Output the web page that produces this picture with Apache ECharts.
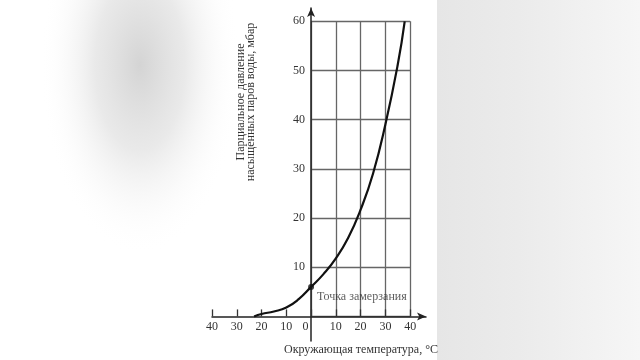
<!DOCTYPE html>
<html>
<head>
<meta charset="utf-8">
<script src="https://cdn.jsdelivr.net/npm/echarts@6/dist/echarts.min.js"></script>
<style>html,body{margin:0;padding:0;background:#fff}#c{width:640px;height:360px}</style>
</head>
<body>
<div id="c"></div>
<script>
// ---- data ----
const temperature = [-23, -20, -15, -10, -5, 0, 5, 10, 15, 20, 25, 30, 35, 37.8];
const pressure    = [0, 0.5, 1.0, 1.8, 3.5, 6.0, 8.6, 11.8, 16.0, 21.7, 29.0, 39.0, 51.2, 60];
const xTickLabels = [-40, -30, -20, -10, 0, 10, 20, 30, 40];
const yTickLabels = [10, 20, 30, 40, 50, 60];
const freezePoint = [0, 6.0];
const freezeLabel = 'Точка замерзания';
const xName = 'Окружающая температура, °C';
const yName = ['Парциальное давление', 'насыщенных паров воды, мбар'];

const FONT = 'Liberation Serif';
const TXT = '#333';

const chart = echarts.init(document.getElementById('c'), null, {renderer: 'canvas'});

const series = [{
  type: 'line',
  xAxisIndex: 0, yAxisIndex: 0,
  data: temperature.map((t, i) => [t, pressure[i]]),
  smooth: 0.5,
  showSymbol: false,
  lineStyle: {color: '#111', width: 2.2},
  z: 5
}, {
  type: 'scatter',
  xAxisIndex: 0, yAxisIndex: 0,
  data: [freezePoint],
  symbolSize: 6,
  itemStyle: {color: '#111'},
  label: {show: true, position: 'right', distance: 3, offset: [0, 10],
          formatter: freezeLabel, fontFamily: FONT, fontSize: 12, color: TXT},
  z: 6
}];

const mainGrid = {left: 212, right: 214, top: 8, bottom: 19};
const mainX = {
  type: 'value', gridIndex: 0, min: -40, max: 46.4,
  axisLine: {show: true, onZero: true, symbol: ['none', 'arrow'], symbolSize: [6, 9],
             lineStyle: {color: '#222', width: 1.5}},
  axisTick: {show: false}, axisLabel: {show: false}, splitLine: {show: false}
};
const mainY = {
  type: 'value', gridIndex: 0, min: -5, max: 62.7,
  axisLine: {show: true, onZero: true, symbol: ['none', 'arrow'], symbolSize: [6, 9],
             lineStyle: {color: '#222', width: 1.5}},
  axisTick: {show: false}, axisLabel: {show: false}, splitLine: {show: false}
};

chart.setOption({
  animation: false,
  backgroundColor: '#fff',
  graphic: [
    {type: 'circle', shape: {cx: 0, cy: 0, r: 100}, x: 140, y: 65, scaleY: 1.9, silent: true, z: -11,
     style: {fill: new echarts.graphic.RadialGradient(0.5, 0.5, 0.5, [
       {offset: 0, color: 'rgba(212,212,212,1)'}, {offset: 0.45, color: 'rgba(226,226,226,0.75)'},
       {offset: 1, color: 'rgba(255,255,255,0)'}])}},
    {type: 'rect', shape: {x: 437, y: 0, width: 203, height: 360}, silent: true, z: -10,
     style: {fill: new echarts.graphic.LinearGradient(0, 0, 1, 0, [
       {offset: 0, color: '#e6e6e6'}, {offset: 0.4, color: '#ebebeb'}, {offset: 1, color: '#f6f6f6'}])}},
    {type: 'text', x: 246, y: 102, rotation: Math.PI / 2, silent: true,
     style: {text: yName.join('\n'), fontFamily: FONT, fontSize: 12, lineHeight: 10,
             fill: TXT, align: 'center', verticalAlign: 'middle'}},
    {type: 'text', x: 438, y: 350, silent: true,
     style: {text: xName, fontFamily: FONT, fontSize: 12, fill: TXT, align: 'right', verticalAlign: 'middle'}}
  ],
  grid: [mainGrid],
  xAxis: [mainX],
  yAxis: [mainY],
  series: series
});

// grids aligned to the data box of the main axes
const pA = chart.convertToPixel({xAxisIndex: 0, yAxisIndex: 0}, [-40, 0]);
const p0 = chart.convertToPixel({xAxisIndex: 0, yAxisIndex: 0}, [0, 0]);
const p1 = chart.convertToPixel({xAxisIndex: 0, yAxisIndex: 0}, [40, 60]);
const hidden = {show: false};
chart.setOption({
  grid: [mainGrid,
         {left: p0[0], top: p1[1], width: p1[0] - p0[0], height: p0[1] - p1[1]},
         {left: pA[0], top: p1[1], width: p1[0] - pA[0], height: p0[1] - p1[1]}],
  xAxis: [mainX, {
    type: 'value', gridIndex: 1, min: 0, max: 40, interval: 10,
    axisLine: hidden, axisTick: hidden, axisLabel: hidden,
    splitLine: {show: true, lineStyle: {color: '#666', width: 1.3}}
  }, {
    type: 'value', gridIndex: 2, min: -40, max: 40, interval: 10, position: 'bottom',
    axisLine: hidden,
    axisTick: {show: true, inside: true, length: 7, lineStyle: {color: '#333', width: 1.3}},
    axisLabel: {show: true, margin: 4, fontFamily: FONT, fontSize: 12, color: TXT,
                formatter: v => xTickLabels.indexOf(v) < 0 ? '' : (v === 0 ? '{z|0}' : String(Math.abs(v))),
                rich: {z: {fontFamily: FONT, fontSize: 12, color: TXT, padding: [0, 11, 0, 0]}}},
    splitLine: hidden
  }],
  yAxis: [mainY, {
    type: 'value', gridIndex: 1, min: 0, max: 60, interval: 10, position: 'left',
    axisLine: hidden, axisTick: hidden,
    axisLabel: {show: true, margin: 6, fontFamily: FONT, fontSize: 12, color: TXT,
                formatter: v => yTickLabels.indexOf(v) < 0 ? '' : String(v)},
    splitLine: {show: true, lineStyle: {color: '#666', width: 1.3}}
  }, {
    type: 'value', gridIndex: 2, min: 0, max: 60, interval: 10,
    axisLine: hidden, axisTick: hidden, axisLabel: hidden, splitLine: hidden
  }]
});
</script>
</body>
</html>
